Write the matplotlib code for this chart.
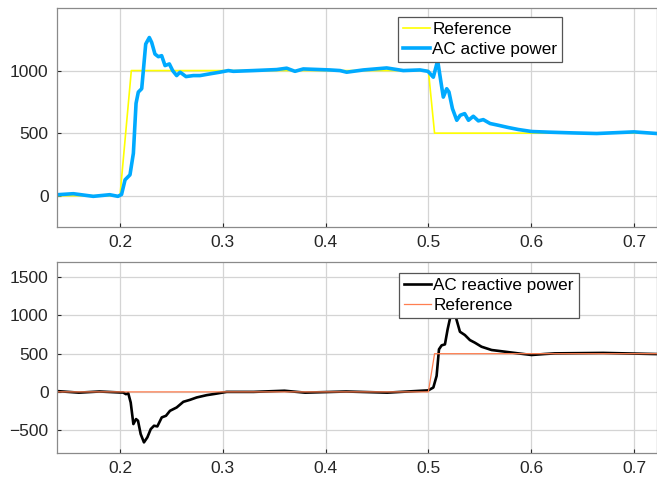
import matplotlib
matplotlib.use("Agg")
from matplotlib import pyplot as plt

plt.rcParams['font.family'] = ['Liberation Sans', 'DejaVu Sans']

# top panel: active power
t_ref_p = [0.1387, 0.200, 0.211, 0.500, 0.506, 0.7224]
ref_p = [0, 0, 1000, 1000, 500, 500]

t_p = [0.139, 0.1546, 0.174, 0.190, 0.198, 0.2015, 0.2049, 0.2097, 0.213, 0.2156,
       0.2178, 0.2211, 0.2227, 0.225, 0.2285, 0.2308, 0.234, 0.2373, 0.2405, 0.2438,
       0.248, 0.2512, 0.2551, 0.2584, 0.2642, 0.2713, 0.2778, 0.2875, 0.297, 0.3054,
       0.3103, 0.3297, 0.3524, 0.3621, 0.3702, 0.3783, 0.4043, 0.414, 0.4205, 0.4367,
       0.4594, 0.4756, 0.4918, 0.4996, 0.5048, 0.509, 0.5122, 0.5145, 0.5178, 0.520,
       0.5234, 0.5276, 0.531, 0.5353, 0.539, 0.5437, 0.5486, 0.5534, 0.560, 0.568,
       0.5777, 0.5875, 0.6005, 0.6167, 0.640, 0.6637, 0.700, 0.7224]
p = [8, 16, -5, 8, -5, 10, 127, 167, 339, 738,
     828, 855, 1000, 1212, 1264, 1225, 1132, 1111, 1119, 1040,
     1053, 1000, 960, 987, 952, 960, 960, 974, 987, 1000,
     994, 1000, 1008, 1019, 994, 1013, 1005, 1000, 987, 1005,
     1021, 1000, 1005, 994, 947, 1080, 909, 788, 855, 829,
     696, 603, 643, 656, 603, 635, 598, 608, 577, 563,
     545, 529, 513, 508, 502, 497, 510, 497]

# bottom panel: reactive power
t_ref_q = [0.1387, 0.500, 0.506, 0.7224]
ref_q = [0, 0, 500, 500]

t_q = [0.139, 0.160, 0.180, 0.200, 0.203, 0.2058, 0.208, 0.2104, 0.213, 0.2156,
       0.2175, 0.2201, 0.2233, 0.2266, 0.2299, 0.2331, 0.2363, 0.2406, 0.2447, 0.2486,
       0.2551, 0.2616, 0.2681, 0.2746, 0.2843, 0.2924, 0.3038, 0.330, 0.360, 0.380,
       0.420, 0.460, 0.4999, 0.5048, 0.508, 0.5103, 0.5129, 0.5161, 0.5187, 0.522,
       0.5235, 0.5275, 0.5307, 0.5355, 0.5404, 0.5452, 0.5517, 0.5615, 0.5745, 0.5874,
       0.6004, 0.6134, 0.623, 0.670, 0.7224]
q = [10, -10, 5, -8, -8, -30, -17, -139, -421, -356,
     -378, -552, -661, -595, -487, -443, -452, -334, -313, -248,
     -204, -130, -104, -73, -43, -26, 0, 0, 15, -10,
     5, -10, 20, 57, 209, 557, 609, 622, 818, 1020,
     1150, 939, 787, 744, 678, 644, 591, 548, 526, 504,
     483, 496, 504, 510, 495]

fig = plt.figure(figsize=(6.57, 4.82), dpi=100)
ax1 = fig.add_axes([57 / 657, 1 - 227 / 482, 1 - 57 / 657, 219 / 482])
ax2 = fig.add_axes([57 / 657, 1 - 453 / 482, 1 - 57 / 657, 191 / 482])

ax1.plot(t_ref_p, ref_p, color='#ffff00', lw=1.2, label='Reference')
ax1.plot(t_p, p, color='#00aaff', lw=2.6, label='AC active power')
ax1.set_ylim(-250, 1500)
ax1.set_yticks([0, 500, 1000])

ax2.plot(t_q, q, color='black', lw=1.9, label='AC reactive power')
ax2.plot(t_ref_q, ref_q, color='#ff7f50', lw=0.9, label='Reference')
ax2.set_ylim(-800, 1700)
ax2.set_yticks([-500, 0, 500, 1000, 1500])

for ax in (ax1, ax2):
    ax.set_xlim(0.1387, 0.7224)
    ax.set_xticks([0.2, 0.3, 0.4, 0.5, 0.6, 0.7])
    ax.grid(True, color='#d4d4d4', lw=0.9)
    ax.set_axisbelow(True)
    ax.tick_params(direction='in', length=3, labelsize=12.5, colors='#262626', pad=6)
    for s in ax.spines.values():
        s.set_color('#8a8a8a')
        s.set_linewidth(0.9)

leg_kw = dict(fontsize=12.3, handlelength=1.55, handletextpad=0.15, labelspacing=0.3,
              borderpad=0.3, borderaxespad=0, fancybox=False, framealpha=1,
              edgecolor='#555555', loc='upper left')
l1 = ax1.legend(bbox_to_anchor=(398 / 657, 1 - 17 / 482), bbox_transform=fig.transFigure, **leg_kw)
l2 = ax2.legend(bbox_to_anchor=(399 / 657, 1 - 273 / 482), bbox_transform=fig.transFigure, **leg_kw)
for l in (l1, l2):
    l.get_frame().set_linewidth(0.9)

fig.savefig('out.png', dpi=100)
